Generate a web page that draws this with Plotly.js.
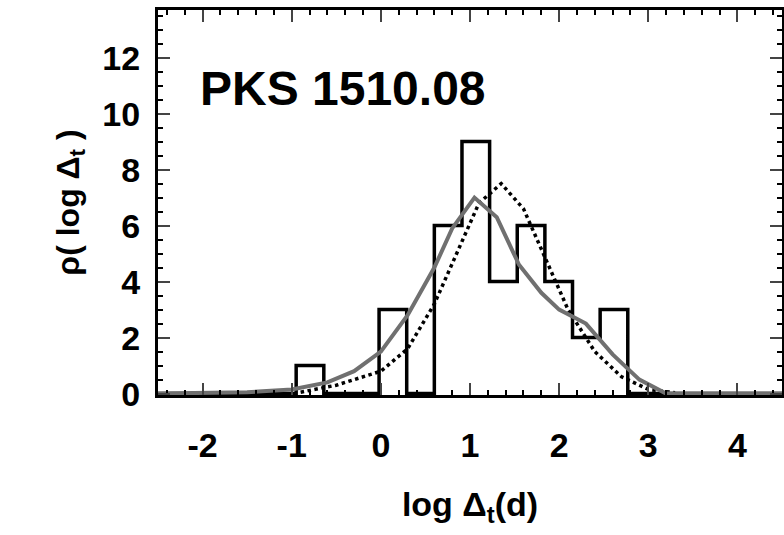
<!DOCTYPE html><html><head><script src="https://cdn.plot.ly/plotly-3.0.1.min.js"></script></head><body style="margin:0"><div id="c" style="width:784px;height:535px"></div><script>
const binEdges=[-0.95,-0.64,-0.33,-0.02,0.29,0.60,0.91,1.22,1.53,1.84,2.15,2.46,2.77];
const binCounts=[1,0,0,3,0,6,9,4,6,4,2,3];
const solidX=[-2.5,-1.5,-1,-0.6,-0.3,0,0.3,0.6,0.8,1.05,1.3,1.55,1.8,2.0,2.3,2.6,2.9,3.2,4.5];
const solidY=[0,0.05,0.15,0.4,0.8,1.5,2.8,4.5,5.9,7.0,6.3,4.6,3.6,3.0,2.5,1.4,0.5,0,0];
const dotX=[-0.9,-0.5,0,0.3,0.6,0.85,1.1,1.35,1.6,1.85,2.1,2.4,2.7,3.0,3.3];
const dotY=[0.05,0.3,0.8,1.6,3.2,5.0,6.8,7.5,6.6,4.8,3.0,1.5,0.6,0.15,0.03];
const xTicks=[-2,-1,0,1,2,3,4];
const xTickText=['-2','-1','0','1','2','3','4'];
const yTicks=[0,2,4,6,8,10,12];
const hx=[-2.5,binEdges[0]],hy=[0,0];
for(let i=0;i<binCounts.length;i++){hx.push(binEdges[i],binEdges[i+1]);hy.push(binCounts[i],binCounts[i]);}
hx.push(binEdges[binEdges.length-1],4.5);hy.push(0,0);
const hX=[],hY=[];
for(let i=0;i<hx.length;i++){if(i>0){hX.push(hx[i]);hY.push(hY[hY.length-1]);}hX.push(hx[i]);hY.push(hy[i]);}
const traces=[
{x:hX,y:hY,mode:'lines',line:{color:'black',width:3.5},hoverinfo:'skip'},
{x:dotX,y:dotY,mode:'lines',line:{color:'black',width:3.5,dash:'dot'}},
{x:solidX,y:solidY,mode:'lines',line:{color:'#707070',width:4}}];
const F='Liberation Sans, Arial';
const ax={showline:true,mirror:'allticks',linecolor:'black',linewidth:3,ticks:'inside',ticklen:12,tickwidth:2,showgrid:false,zeroline:false,
 tickfont:{family:F,size:34,color:'black'}};
Plotly.newPlot('c',traces,{width:784,height:535,showlegend:false,margin:{l:158,r:2,t:10,b:140},plot_bgcolor:'white',
xaxis:Object.assign({},ax,{range:[-2.5,4.5],tickvals:xTicks,ticktext:xTickText.map(t=>'<b>'+t+'</b>'),ticklabelstandoff:18,minor:{dtick:0.2,ticks:'inside',ticklen:5,tickcolor:'black'},
 title:{text:'<b>log Δ<sub>t</sub>(d)</b>',font:{family:F,size:34,color:'black'},standoff:30}}),
yaxis:Object.assign({},ax,{range:[-0.05,13.7],tickvals:yTicks,ticktext:yTicks.map(t=>'<b>'+t+'</b>'),ticklabelstandoff:8,minor:{dtick:0.5,ticks:'inside',ticklen:5,tickcolor:'black'},
 title:{text:'<b>ρ( log Δ<sub>t</sub> )</b>',font:{family:F,size:32,color:'black'},standoff:14}}),
annotations:[{text:'<b>PKS 1510.08</b>',x:-2.05,y:10.9,xanchor:'left',yanchor:'middle',showarrow:false,font:{family:F,size:48,color:'black'}}]
},{displayModeBar:false});
</script></body></html>
